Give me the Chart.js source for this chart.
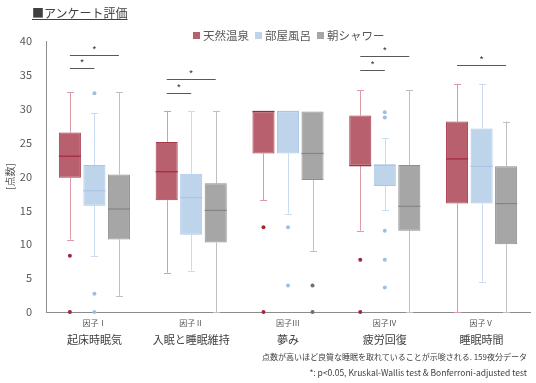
<!DOCTYPE html>
<html>
<head>
<meta charset="utf-8">
<script src="https://cdn.jsdelivr.net/npm/chart.js@4.4.1/dist/chart.umd.min.js"></script>
<style>
  body { margin: 0; background: #fff; font-family: "Noto Sans CJK JP", sans-serif; }
  #wrap { position: relative; width: 536px; height: 383px; }
  #title { position: absolute; left: 32px; top: 4px; font-size: 12px; color: #404040; text-decoration: underline; white-space: nowrap; }
  #legend { position: absolute; left: 193px; top: 27px; font-size: 11.5px; color: #595959; white-space: nowrap; }
  #legend span.sw { display: inline-block; width: 7px; height: 7px; margin-right: 3px; vertical-align: 1px; }
  #legend span.it { margin-right: 6px; }
  .note { position: absolute; right: 9px; color: #404040; white-space: nowrap; }
</style>
</head>
<body>
<div id="wrap">
  <canvas id="chart" width="536" height="383"></canvas>
  <div id="title">■アンケート評価</div>
  <div id="legend"></div>
  <div class="note" style="top:351px;font-size:8px">点数が高いほど良質な睡眠を取れていることが示唆される. 159夜分データ</div>
  <div class="note" style="top:366px;font-size:8.5px">*: p&lt;0.05, Kruskal-Wallis test &amp; Bonferroni-adjusted test</div>
</div>
<script>
/* ---- data ---- */
const factors = ['因子Ⅰ', '因子Ⅱ', '因子Ⅲ', '因子Ⅳ', '因子Ⅴ'];
const categories = ['起床時眠気', '入眠と睡眠維持', '夢み', '疲労回復', '睡眠時間'];
const seriesNames = ['天然温泉', '部屋風呂', '朝シャワー'];

// 天然温泉
const onsenLow = [10.7, 5.8, 16.5, 12.0, 0];
const onsenQ1 = [19.8, 16.5, 23.4, 21.6, 16.0];
const onsenMed = [23.0, 20.7, 29.6, 21.6, 22.6];
const onsenQ3 = [26.5, 25.1, 29.6, 29.0, 28.1];
const onsenHigh = [32.4, 29.7, 29.6, 32.7, 33.7];
const onsenOut = [[8.3, 0], [], [12.5, 0], [7.7, 0], []];

// 部屋風呂
const bathLow = [8.3, 6.1, 14.5, 15.0, 4.5];
const bathQ1 = [15.7, 11.4, 23.4, 18.6, 16.0];
const bathMed = [17.9, 16.9, 29.6, 21.7, 21.5];
const bathQ3 = [21.7, 20.4, 29.6, 21.7, 27.1];
const bathHigh = [29.3, 29.7, 29.6, 25.7, 33.7];
const bathOut = [[32.3, 2.7, 0], [], [12.5, 3.9], [29.5, 28.7, 12.0, 7.7, 3.6], []];

// 朝シャワー
const showerLow = [2.4, 0, 9.0, 0, 0];
const showerQ1 = [10.7, 10.25, 19.5, 12.0, 10.0];
const showerMed = [15.2, 15.0, 23.4, 15.6, 16.0];
const showerQ3 = [20.3, 19.0, 29.6, 21.7, 21.5];
const showerHigh = [32.4, 29.7, 29.6, 32.7, 28.1];
const showerOut = [[], [], [3.9, 0], [], []];

// significance brackets: category, from series, to series, height
const sigCat = [0, 0, 1, 1, 3, 3, 4];
const sigFrom = [0, 0, 0, 0, 0, 0, 0];
const sigTo = [1, 2, 1, 2, 1, 2, 2];
const sigY = [36.0, 38.0, 32.3, 34.4, 35.7, 37.8, 36.5];

/* ---- styles ---- */
const fills = ['#b9606e', '#bdd4eb', '#a6a6a6'];
const borders = ['#a8394b', '#a9c5e5', '#8e8e8e'];
const whiskerColors = ['#dc9ba6', '#c9dcf0', '#bfbfbf'];
const medianColors = ['#a0283c', '#a9c5e5', '#858585'];
const outlierColors = ['#a0283c', '#9fbfe2', '#6f6f6f'];

const stats = [
  { low: onsenLow, q1: onsenQ1, med: onsenMed, q3: onsenQ3, high: onsenHigh, out: onsenOut },
  { low: bathLow, q1: bathQ1, med: bathMed, q3: bathQ3, high: bathHigh, out: bathOut },
  { low: showerLow, q1: showerQ1, med: showerMed, q3: showerQ3, high: showerHigh, out: showerOut },
];

document.getElementById('legend').innerHTML = seriesNames.map((n, i) =>
  `<span class="it"><span class="sw" style="background:${fills[i]}"></span>${n}</span>`).join('');

const FONT = '"Noto Sans CJK JP", sans-serif';

function hLine(ctx, x1, x2, y) {
  ctx.beginPath(); ctx.moveTo(x1, y); ctx.lineTo(x2, y); ctx.stroke();
}

const boxExtras = {
  id: 'boxExtras',
  beforeDatasetsDraw(chart) {
    const { ctx, scales: { y } } = chart;
    ctx.save();
    ctx.lineWidth = 1;
    stats.forEach((s, d) => {
      const meta = chart.getDatasetMeta(d);
      ctx.strokeStyle = whiskerColors[d];
      meta.data.forEach((bar, i) => {
        const x = Math.round(bar.x) + 0.5;
        const yLo = y.getPixelForValue(s.low[i]), yHi = y.getPixelForValue(s.high[i]);
        const yQ1 = y.getPixelForValue(s.q1[i]), yQ3 = y.getPixelForValue(s.q3[i]);
        ctx.beginPath();
        ctx.moveTo(x, yLo); ctx.lineTo(x, yQ1);
        ctx.moveTo(x, yQ3); ctx.lineTo(x, yHi);
        ctx.stroke();
        if (s.low[i] < s.q1[i]) hLine(ctx, x - 3.5, x + 3.5, Math.round(yLo) + 0.5);
        if (s.high[i] > s.q3[i]) hLine(ctx, x - 3.5, x + 3.5, Math.round(yHi) + 0.5);
      });
    });
    ctx.restore();
  },
  afterDatasetsDraw(chart) {
    const { ctx, scales: { x: xs, y } } = chart;
    ctx.save();
    stats.forEach((s, d) => {
      const meta = chart.getDatasetMeta(d);
      meta.data.forEach((bar, i) => {
        // median
        ctx.strokeStyle = medianColors[d];
        ctx.lineWidth = 1.2;
        hLine(ctx, bar.x - bar.width / 2, bar.x + bar.width / 2, y.getPixelForValue(s.med[i]));
        // outliers
        ctx.fillStyle = outlierColors[d];
        s.out[i].forEach(v => {
          ctx.beginPath();
          ctx.arc(bar.x, y.getPixelForValue(v), 2, 0, Math.PI * 2);
          ctx.fill();
        });
      });
    });
    // significance brackets
    ctx.strokeStyle = '#595959';
    ctx.fillStyle = '#404040';
    ctx.lineWidth = 1;
    ctx.font = '10px ' + FONT;
    ctx.textAlign = 'center';
    ctx.textBaseline = 'middle';
    sigCat.forEach((c, k) => {
      const x1 = chart.getDatasetMeta(sigFrom[k]).data[c].x;
      const x2 = chart.getDatasetMeta(sigTo[k]).data[c].x;
      const yy = Math.round(y.getPixelForValue(sigY[k])) + 0.5;
      hLine(ctx, x1, x2, yy);
      ctx.fillText('*', (x1 + x2) / 2, yy - 5);
    });
    // category labels
    categories.forEach((cat, i) => {
      const cx = xs.getPixelForValue(i);
      ctx.fillStyle = '#595959';
      ctx.font = '8px ' + FONT;
      ctx.fillText(factors[i], cx, 323);
      ctx.fillStyle = '#404040';
      ctx.font = '11px ' + FONT;
      ctx.fillText(cat, cx, 340);
    });
    ctx.restore();
  }
};

new Chart(document.getElementById('chart'), {
  type: 'bar',
  data: {
    labels: categories,
    datasets: stats.map((s, d) => ({
      label: seriesNames[d],
      data: s.q1.map((v, i) => [v, s.q3[i]]),
      backgroundColor: fills[d],
      borderColor: borders[d],
      borderWidth: 1,
      borderSkipped: false,
      categoryPercentage: 0.76,
      barPercentage: 0.9,
    })),
  },
  options: {
    responsive: false,
    animation: false,
    layout: { padding: { top: 41, right: 6, bottom: 63, left: 0 } },
    plugins: { legend: { display: false }, tooltip: { enabled: false } },
    scales: {
      x: {
        offset: true,
        grid: { display: false },
        ticks: { display: false },
        border: { color: '#8c8c8c' },
      },
      y: {
        min: 0, max: 40,
        ticks: { stepSize: 5, color: '#595959', font: { size: 11, family: FONT }, padding: 6 },
        grid: { display: false },
        border: { color: '#8c8c8c' },
        title: { display: true, text: '[点数]', color: '#595959', font: { size: 10, family: FONT }, padding: { top: 4, bottom: 0 } },
        afterFit(scale) { scale.width = 46; },
      },
    },
  },
  plugins: [boxExtras],
});
</script>
</body>
</html>
